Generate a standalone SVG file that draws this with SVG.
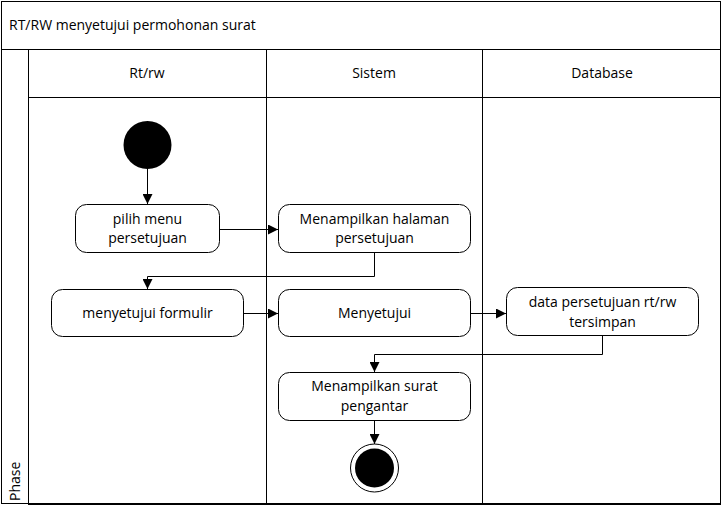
<svg xmlns="http://www.w3.org/2000/svg" width="723" height="510" viewBox="0 0 723 510">
<defs>
<style>
.frame{fill:none;stroke:#000;stroke-width:1}
.node{fill:#fff;stroke:#000;stroke-width:1}
.t{font-family:"Open Sans","Noto Sans","DejaVu Sans",sans-serif;font-size:14px;fill:#000;text-anchor:middle}
.title{font-family:"Open Sans","Noto Sans","DejaVu Sans",sans-serif;font-size:14px;fill:#000}
.edge{fill:none;stroke:#000;stroke-width:1}
</style>
<marker id="arr" viewBox="0 0 10 10" refX="10" refY="5" markerWidth="10" markerHeight="10" markerUnits="userSpaceOnUse" orient="auto">
<path d="M0,0 L10,5 L0,10 z" fill="#000"/>
</marker>
</defs>
<rect width="723" height="510" fill="#fff"/>
<g id="swimlanes">
<rect class="frame" x="1.5" y="1.5" width="719" height="502"/>
<line class="frame" x1="1.5" y1="49.5" x2="720.5" y2="49.5"/>
<line class="frame" x1="28.5" y1="49.5" x2="28.5" y2="503.5"/>
<line class="frame" x1="28.5" y1="97.5" x2="720.5" y2="97.5"/>
<line class="frame" x1="266.5" y1="49.5" x2="266.5" y2="503.5"/>
<line class="frame" x1="482.5" y1="49.5" x2="482.5" y2="503.5"/>
<line x1="28" y1="504" x2="721" y2="504" stroke="#000" stroke-width="2"/>
<text class="title" x="9" y="30">RT/RW menyetujui permohonan surat</text>
<text class="t" x="147" y="78">Rt/rw</text>
<text class="t" x="374" y="78">Sistem</text>
<text class="t" x="602" y="78">Database</text>
<text class="title" transform="translate(20,501) rotate(-90)">Phase</text>
</g>
<g id="connectors">
<line class="edge" x1="147.5" y1="169" x2="147.5" y2="204" marker-end="url(#arr)"/>
<line class="edge" x1="219" y1="229.5" x2="278" y2="229.5" marker-end="url(#arr)"/>
<polyline class="edge" points="374.5,253 374.5,276.5 147.5,276.5 147.5,289" marker-end="url(#arr)"/>
<line class="edge" x1="243" y1="313.5" x2="278" y2="313.5" marker-end="url(#arr)"/>
<line class="edge" x1="470" y1="313.5" x2="506" y2="313.5" marker-end="url(#arr)"/>
<polyline class="edge" points="602.5,336 602.5,354.5 374.5,354.5 374.5,372" marker-end="url(#arr)"/>
<line class="edge" x1="374.5" y1="420" x2="374.5" y2="444" marker-end="url(#arr)"/>
</g>
<g id="start">
<circle cx="147.5" cy="145" r="24" fill="#000"/>
</g>
<g id="pilih">
<rect class="node" x="75.5" y="204.5" width="144" height="48" rx="11"/>
<text class="t" x="147.5" y="224">pilih menu</text>
<text class="t" x="147.5" y="243">persetujuan</text>
</g>
<g id="menampilkan-halaman">
<rect class="node" x="278.5" y="204.5" width="192" height="48" rx="11"/>
<text class="t" x="374.5" y="224">Menampilkan halaman</text>
<text class="t" x="374.5" y="243">persetujuan</text>
</g>
<g id="menyetujui-formulir">
<rect class="node" x="51.5" y="289.5" width="192" height="47" rx="11"/>
<text class="t" x="147.5" y="318">menyetujui formulir</text>
</g>
<g id="menyetujui">
<rect class="node" x="278.5" y="289.5" width="192" height="47" rx="11"/>
<text class="t" x="374.5" y="318">Menyetujui</text>
</g>
<g id="data-tersimpan">
<rect class="node" x="506.5" y="287.5" width="192" height="48" rx="11"/>
<text class="t" x="602.5" y="307">data persetujuan rt/rw</text>
<text class="t" x="602.5" y="327">tersimpan</text>
</g>
<g id="menampilkan-surat">
<rect class="node" x="278.5" y="372.5" width="192" height="48" rx="11"/>
<text class="t" x="374.5" y="391">Menampilkan surat</text>
<text class="t" x="374.5" y="411">pengantar</text>
</g>
<g id="end">
<circle cx="374.5" cy="468" r="24" fill="#fff" stroke="#000" stroke-width="1"/>
<circle cx="374.5" cy="468" r="19.5" fill="#000"/>
</g>
</svg>
